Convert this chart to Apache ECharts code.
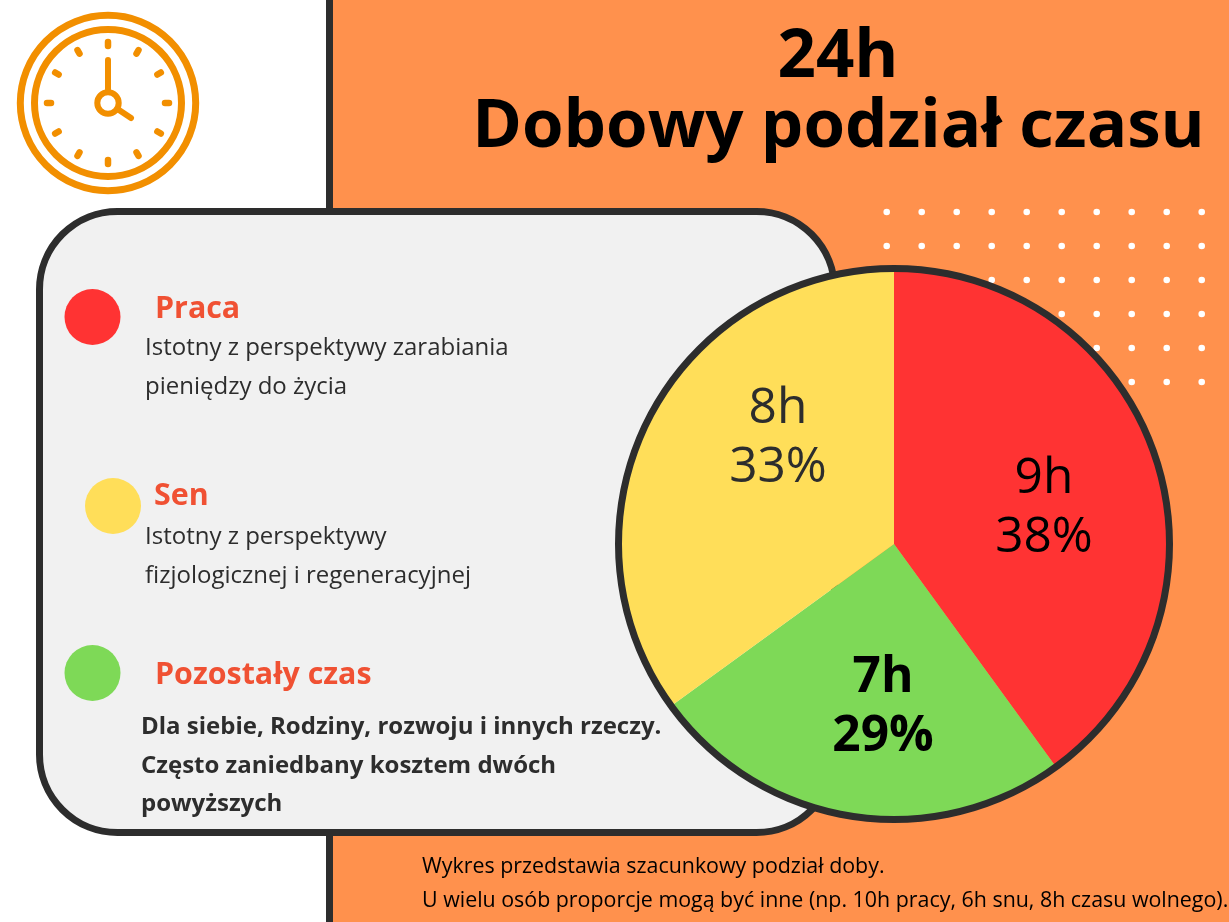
<!DOCTYPE html>
<html><head><meta charset="utf-8">
<style>html,body{margin:0;padding:0;background:#fff}#c{width:1229px;height:922px}</style>
<script src="https://cdn.jsdelivr.net/npm/echarts@6/dist/echarts.min.js"></script>
</head><body><div id="c"></div>
<script>
// Slice sizes as drawn in the picture (share of the circle, %)
var categories = ['Praca', 'Pozostały czas', 'Sen'];
var drawnShares = [40, 25, 35];
var hours = ['9h', '7h', '8h'];
var percents = ['38%', '29%', '33%'];
var sliceColors = ['#ff3333', '#7ed957', '#ffde59'];
var title = ['24h', 'Dobowy podział czasu'];
var footnote = ['Wykres przedstawia szacunkowy podział doby.', 'U wielu osób proporcje mogą być inne (np. 10h pracy, 6h snu, 8h czasu wolnego).'];

var FONT = '"Open Sans"';
var INK = '#2d2d2d', HEAD = '#f05133', ORANGE = '#ff914d', AMBER = '#f28f00';
var g = [];
function rect(x, y, w, h, fill, z) { g.push({type:'rect', z:z||1, shape:{x:x,y:y,width:w,height:h}, style:{fill:fill}}); }
function txt(x, y, s, size, fill, weight, z) {
  g.push({type:'text', z:z||5, x:x, y:y, style:{text:s, fontFamily:FONT, fontSize:size, fontWeight:weight||400, fill:fill, textVerticalAlign:'middle'}});
}
// background
rect(333, 0, 896, 922, ORANGE, 1);
rect(326, 0, 7, 922, INK, 1);
// dots
for (var r = 0; r < 6; r++) for (var c = 0; c < 10; c++)
  g.push({type:'circle', z:2, shape:{cx:886.7 + c*35, cy:212 + r*34, r:3.3}, style:{fill:'#fff'}});
// panel
g.push({type:'rect', z:3, shape:{x:39.5, y:211.5, width:795, height:621, r:78}, style:{fill:'#f1f1f1', stroke:INK, lineWidth:7}});
// legend dots
g.push({type:'circle', z:5, shape:{cx:92.5, cy:317, r:28}, style:{fill:sliceColors[0]}});
g.push({type:'circle', z:5, shape:{cx:113, cy:506, r:28}, style:{fill:sliceColors[2]}});
g.push({type:'circle', z:5, shape:{cx:92.5, cy:673, r:28}, style:{fill:sliceColors[1]}});
// texts
txt(155, 309, 'Praca', 30.4, HEAD, 700);
txt(145, 348, 'Istotny z perspektywy zarabiania', 24, INK);
txt(145, 387, 'pieniędzy do życia', 24, INK);
txt(154, 496, 'Sen', 30.4, HEAD, 700);
txt(145, 537, 'Istotny z perspektywy', 24, INK);
txt(145, 576, 'fizjologicznej i regeneracyjnej', 24, INK);
txt(155, 675, 'Pozostały czas', 30.4, HEAD, 700);
txt(141, 727, 'Dla siebie, Rodziny, rozwoju i innych rzeczy.', 24, INK, 700);
txt(141, 766, 'Często zaniedbany kosztem dwóch', 24, INK, 700);
txt(141, 804, 'powyższych', 24, INK, 700);
g.push({type:'text', z:5, x:838, y:58, style:{text:title[0], fontFamily:FONT, fontSize:67.2, fontWeight:700, fill:'#000', align:'center', verticalAlign:'middle'}});
g.push({type:'text', z:5, x:838.5, y:128, style:{text:title[1], fontFamily:FONT, fontSize:67.2, fontWeight:700, fill:'#000', align:'center', verticalAlign:'middle'}});
txt(422, 867, footnote[0], 21.4, '#000');
txt(422, 901, footnote[1], 21.4, '#000');
// clock
var CX = 108, CY = 103;
function ring(r, w) { g.push({type:'circle', z:2, shape:{cx:CX,cy:CY,r:r}, style:{fill:'none', stroke:AMBER, lineWidth:w}}); }
ring(87.7, 7); ring(73.5, 7); ring(10.7, 6);
function seg(x1,y1,x2,y2,w){ g.push({type:'line', z:2, shape:{x1:x1,y1:y1,x2:x2,y2:y2}, style:{stroke:AMBER, lineWidth:w, lineCap:'round'}}); }
for (var i = 0; i < 12; i++) {
  var a = i * Math.PI / 6, s = Math.sin(a), k = Math.cos(a);
  seg(CX + 57*s, CY - 57*k, CX + 61*s, CY - 61*k, 6.5);
}
seg(CX, CY - 14, CX, CY - 43, 6);
seg(CX + 11, CY + 7, CX + 23, CY + 15, 6);

var labelPos = [[1044, 508], [883, 707], [778, 438]];
var chart = echarts.init(document.getElementById('c'), null, {renderer:'canvas'});
chart.setOption({
  animation:false,
  graphic:{elements:g},
  series:[{
    type:'pie', z:10, center:[894,544], radius:[0,276], startAngle:90, clockwise:true, silent:true,
    data:categories.map(function(n,i){return {
      name:n, value:drawnShares[i], itemStyle:{color:sliceColors[i]},
      label:{show:true, position:'inside', formatter:hours[i]+'\n'+percents[i], fontFamily:FONT, fontSize:49.6,
        lineHeight:59, fontWeight:i===1?700:400, color:i===0||i===1?'#000':INK}
    };}),
    labelLine:{show:false},
    labelLayout:function(p){ var q = labelPos[p.dataIndex]; return {x:q[0], y:q[1], align:'center', verticalAlign:'middle'}; }
  },{
    type:'pie', z:11, center:[894,544], radius:[272,279], silent:true, label:{show:false}, labelLine:{show:false},
    itemStyle:{color:INK}, data:[{value:1, name:'rim'}]
  }]
});
</script></body></html>
